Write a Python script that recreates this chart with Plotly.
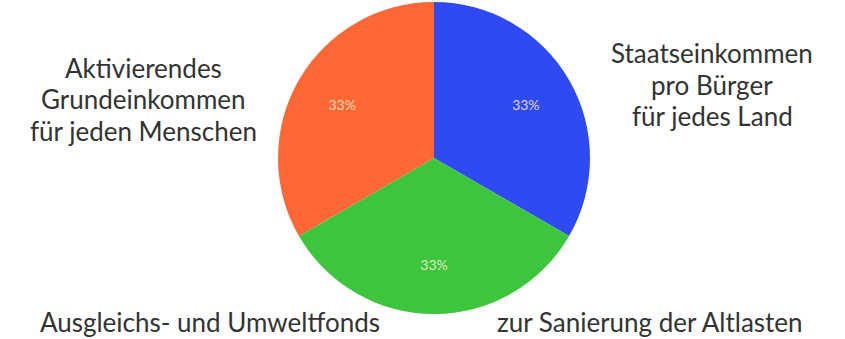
import plotly.graph_objects as go

labels = ["Staatseinkommen pro Bürger für jedes Land",
          "Ausgleichs- und Umweltfonds zur Sanierung der Altlasten",
          "Aktivierendes Grundeinkommen für jeden Menschen"]
values = [1, 1, 1]
colors = ["#2F4AF2", "#3DC63D", "#FF6735"]

right_lines = ["Staatseinkommen", "pro Bürger", "für jedes Land"]
left_lines = ["Aktivierendes", "Grundeinkommen", "für jeden Menschen"]
bottom_left = "Ausgleichs- und Umweltfonds"
bottom_right = "zur Sanierung der Altlasten"

W, H = 845, 339
cx, cy, d = 434, 158, 312
dom = dict(x=[(cx - d/2)/W, (cx + d/2)/W], y=[(H - cy - d/2)/H, (H - cy + d/2)/H])

fig = go.Figure()
fig.add_trace(go.Pie(
    labels=labels, values=values, sort=False, direction="clockwise", rotation=0,
    marker=dict(colors=colors, line=dict(width=0)),
    textinfo="none", domain=dom,
    showlegend=False, hoverinfo="label+percent"))
# percentage labels: transparent ring overlay so the labels sit further out
fig.add_trace(go.Pie(
    labels=labels, values=values, sort=False, direction="clockwise", rotation=0,
    hole=0.36,
    marker=dict(colors=["rgba(0,0,0,0)"]*3, line=dict(width=0)),
    texttemplate="%{percent:.0%}", textposition="inside",
    insidetextorientation="horizontal",
    insidetextfont=dict(family="Lato", size=14, color="rgba(255,240,215,0.85)"),
    domain=dom, showlegend=False, hoverinfo="skip"))

font = dict(family="Lato", size=26, color="#333333")
def add_line(txt, x, ybase):
    fig.add_annotation(x=x/W, y=1-(ybase-10)/H, xref="paper", yref="paper", showarrow=False,
                       text=txt, font=font, xanchor="center", yanchor="middle")

for txt, yb in zip(right_lines, [63, 94.5, 126]):
    add_line(txt, 712, yb)
for txt, yb in zip(left_lines, [78, 109.5, 141]):
    add_line(txt, 143, yb)
add_line(bottom_left, 210, 332)
add_line(bottom_right, 650, 332)

fig.update_layout(width=W, height=H, margin=dict(l=0, r=0, t=0, b=0),
                  paper_bgcolor="white", plot_bgcolor="white")
fig.write_html("out.html", config={"displayModeBar": False},
               post_script="document.body.style.margin='0';")
